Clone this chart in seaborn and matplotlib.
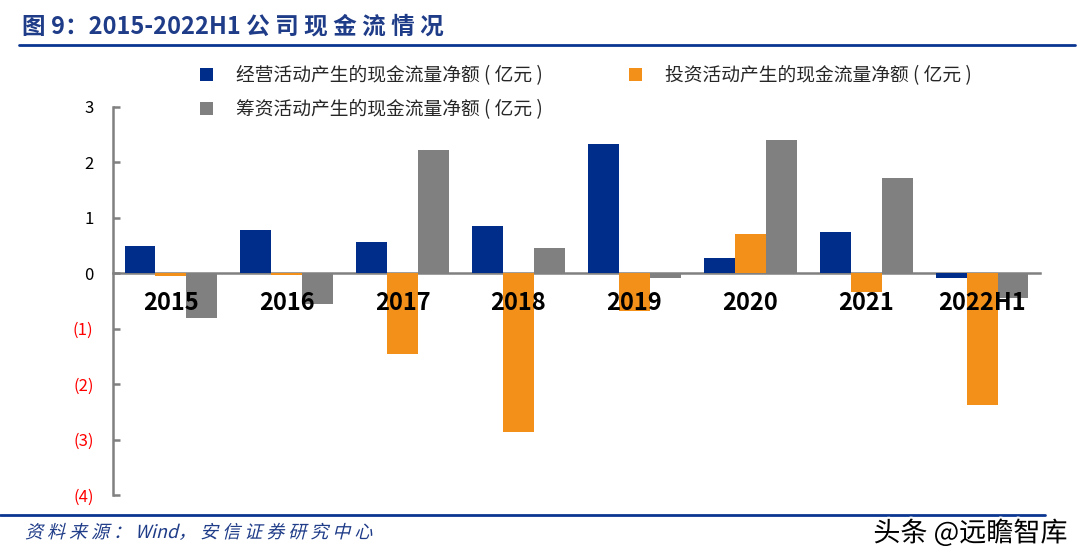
import numpy as np
import pandas as pd
import seaborn as sns
import matplotlib.pyplot as plt
import matplotlib.patheffects as pe
from matplotlib.textpath import TextPath
from matplotlib.patches import PathPatch
from matplotlib.font_manager import FontProperties
from matplotlib.transforms import Affine2D

years = ["2015", "2016", "2017", "2018", "2019", "2020", "2021", "2022H1"]
series = ["经营活动产生的现金流量净额 ( 亿元 )",
          "投资活动产生的现金流量净额 ( 亿元 )",
          "筹资活动产生的现金流量净额 ( 亿元 )"]
operating = [0.49, 0.78, 0.56, 0.85, 2.34, 0.27, 0.74, -0.08]
investing = [-0.05, -0.04, -1.46, -2.87, -0.68, 0.71, -0.34, -2.37]
financing = [-0.81, -0.56, 2.23, 0.45, -0.08, 2.41, 1.72, -0.45]
yticks = [3, 2, 1, 0, -1, -2, -3, -4]
colors = ["#002D8A", "#F39019", "#808080"]

df = pd.DataFrame({
    "year": years * 3,
    "series": [series[0]] * 8 + [series[1]] * 8 + [series[2]] * 8,
    "value": operating + investing + financing,
})

sns.set_theme(style="white")
fonts = ['Noto Sans CJK SC', 'DejaVu Sans']
plt.rcParams['font.family'] = fonts

fig = plt.figure(figsize=(10.83, 5.59), dpi=100)
ax = fig.add_axes([0.1043, 0.1145, 0.856, 0.6941])

sns.barplot(data=df, x="year", y="value", hue="series", palette=colors,
            width=0.8, saturation=1, linewidth=0, ax=ax, zorder=2)

ax.set_xlim(-0.5, 7.5)
ax.set_ylim(-4, 3)
ax.set_xlabel("")
ax.set_ylabel("")

# axis styling
for s in ["top", "right"]:
    ax.spines[s].set_visible(False)
ax.spines["bottom"].set_position(("data", 0))
ax.spines["bottom"].set_color("#808080")
ax.spines["bottom"].set_linewidth(1.8)
ax.spines["bottom"].set_zorder(1)
ax.spines["left"].set_color("#808080")
ax.spines["left"].set_linewidth(1.8)

ax.set_xticks(np.arange(0.5, 7, 1))
ax.set_xticklabels([])
ax.tick_params(axis="x", direction="in", length=6, width=1.8, color="#808080")

ax.set_yticks(yticks)
ax.set_yticklabels([str(v) if v >= 0 else f"({-v})" for v in yticks], fontsize=12)
for lbl, v in zip(ax.get_yticklabels(), yticks):
    lbl.set_color("red" if v < 0 else "black")
ax.tick_params(axis="y", direction="in", length=5, width=1.8, color="#808080", pad=14,
               left=True)

# category labels over the bars
for i, y in enumerate(years):
    ax.text(i, -0.53, y, ha="center", va="center", fontsize=17, fontweight="bold",
            color="black", zorder=5)

# legend: row 1 -> series 0, 1 ; row 2 -> series 2
handles, labels = ax.get_legend_handles_labels()
order = [0, 2, 1]
leg = ax.legend([handles[i] for i in order], [labels[i] for i in order],
                ncol=2, frameon=False, fontsize=13.5,
                handlelength=0.68, handleheight=0.68, handletextpad=1.25,
                columnspacing=4.6, labelspacing=0.7,
                loc="upper left", bbox_to_anchor=(0.169, 0.914),
                bbox_transform=fig.transFigure)
for h in leg.legend_handles:
    h.set_linewidth(0)

# title and frame lines
fig.text(0.02, 0.952, "图 9：2015-2022H1 公 司 现 金 流 情 况", fontsize=17,
         fontweight="bold", color="#1F3C88", ha="left", va="center")
fig.add_artist(plt.Line2D([0.018, 0.993], [0.920, 0.920], color="#0A3591", lw=2,
                          transform=fig.transFigure))
fig.add_artist(plt.Line2D([0.0, 0.965], [0.079, 0.079], color="#0A3591", lw=2,
                          transform=fig.transFigure))

# italic source note (skewed text path)
src = "资 料 来 源 ： Wind， 安 信 证 券 研 究 中 心"
tp = TextPath((0, 0), src, size=18, prop=FontProperties(family=fonts))
fig.add_artist(PathPatch(tp, facecolor="#1F3C88", edgecolor="none",
                         transform=Affine2D().skew_deg(14, 0).translate(25, 21)))

fig.text(0.986, 0.046, "头条 @远瞻智库", fontsize=19.5, color="black",
         ha="right", va="center",
         path_effects=[pe.withStroke(linewidth=3, foreground="white")])

fig.savefig("out.png", dpi=100)
